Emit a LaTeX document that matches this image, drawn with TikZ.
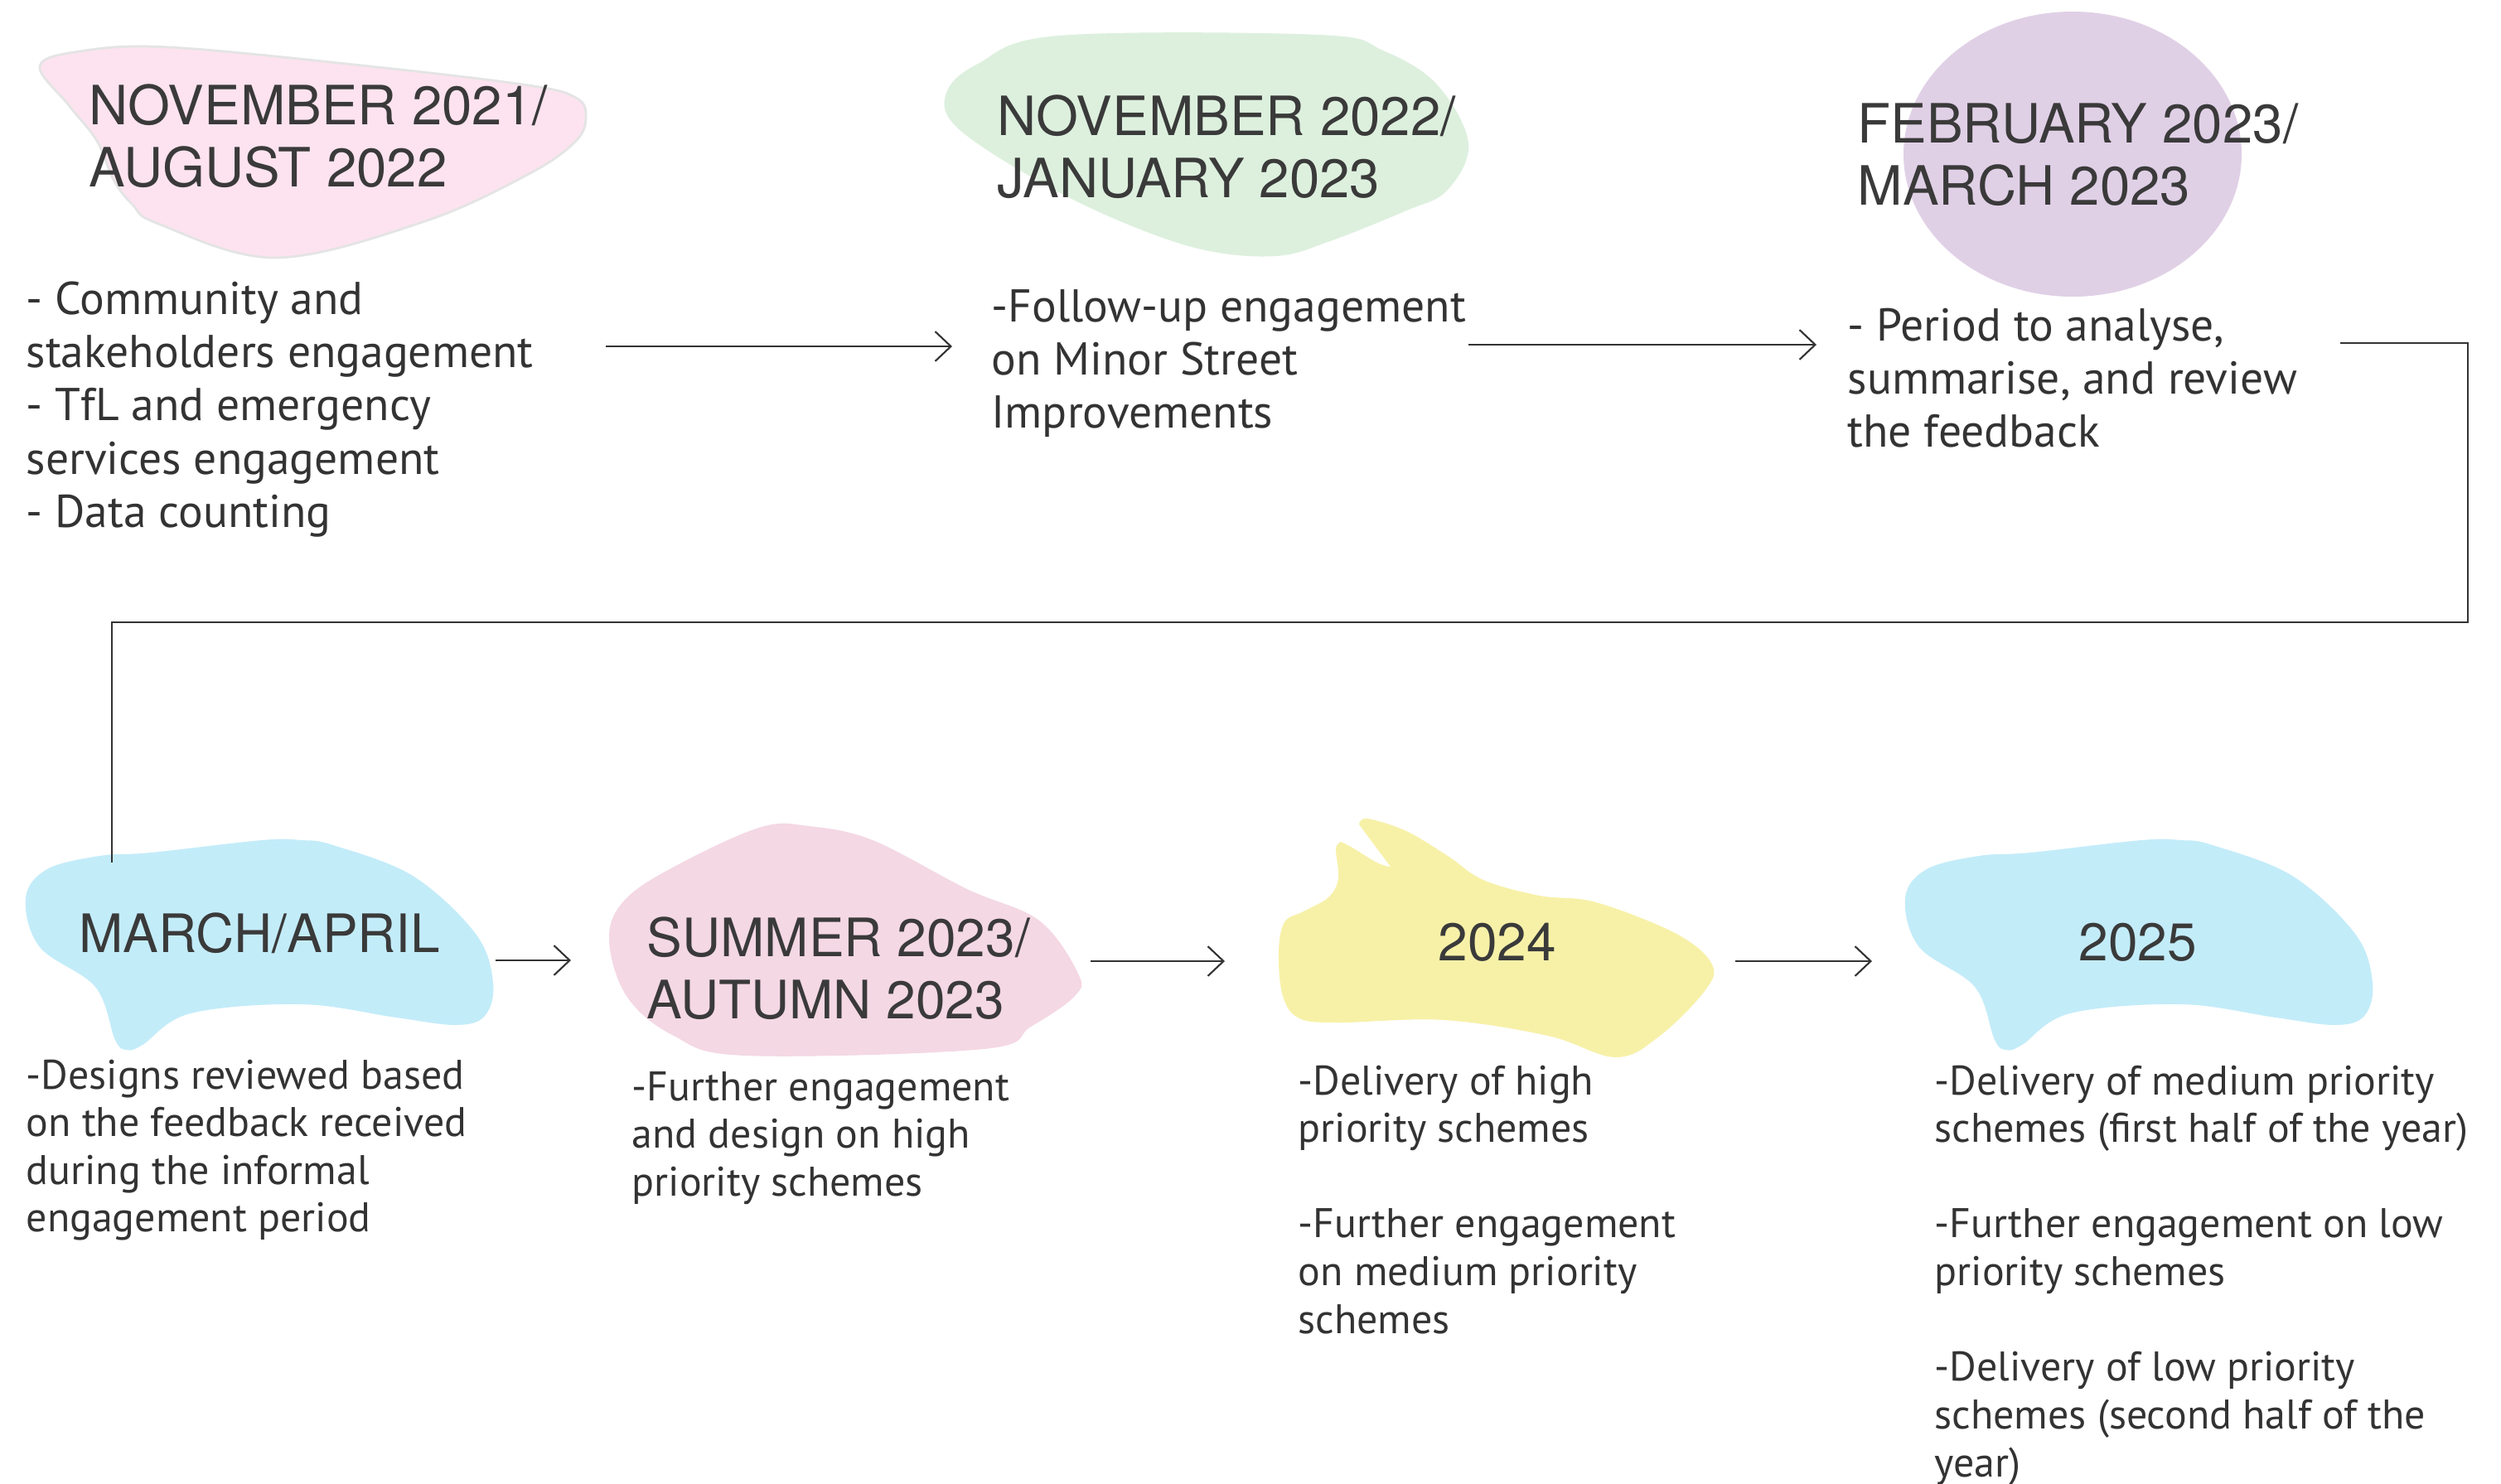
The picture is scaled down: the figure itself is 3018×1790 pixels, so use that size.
\documentclass[tikz,border=0pt]{standalone}
\usepackage{fontspec}
\setmainfont{PT Sans}
\newfontfamily\titlefont{TeX Gyre Heros}
\usetikzlibrary{arrows.meta}
\definecolor{txt}{HTML}{333333}
\definecolor{ttlc}{HTML}{3A3A3A}
\definecolor{linec}{HTML}{333333}
\definecolor{pinkA}{HTML}{FDE3EF}
\definecolor{pinkO}{HTML}{E4E4E4}
\definecolor{greenA}{HTML}{DDF0DE}
\definecolor{purpA}{HTML}{E0D0E6}
\definecolor{blueA}{HTML}{C3ECF9}
\definecolor{pinkB}{HTML}{F4D8E4}
\definecolor{yelA}{HTML}{F7F1A8}
\newcommand\lns[1]{\vtop{\halign{##\hfil\cr#1\crcr}}}
\begin{document}
\begin{tikzpicture}[x=0.1mm,y=-0.1mm,
  ttl/.style={anchor=base west,inner sep=0pt,text=ttlc,font=\titlefont\fontsize{18.6}{21.6}\selectfont},
  ttlB/.style={anchor=base west,inner sep=0pt,text=ttlc,font=\titlefont\fontsize{18.2}{21.6}\selectfont},
  bodyA/.style={anchor=base west,inner sep=0pt,text=txt,font=\fontsize{15.8}{18.35}\selectfont},
  bodyB/.style={anchor=base west,inner sep=0pt,text=txt,font=\fontsize{14.2}{16.4}\selectfont},
  arr/.style={draw=linec,line width=0.6pt,-{Straight Barb[length=5.4pt,width=10.2pt,line width=0.6pt]}},
  conn/.style={draw=linec,line width=0.6pt}]
\fill[white] (0,0) rectangle (3018,1790);
\useasboundingbox (0,0) rectangle (3018,1790);

% blobs
\filldraw[fill=pinkA,draw=pinkO,line width=0.8pt] plot[smooth cycle,tension=0.6] coordinates {
  (48,80) (96,62) (204,57) (446,80) (638,103) (695,118) (707,140) (695,170) (638,210) (510,268) (332,311)
  (191,270) (160,247) (137,217) (117,170) (83,127)};
\fill[greenA] plot[smooth cycle,tension=0.6] coordinates {
  (1277,43) (1592,42) (1669,61) (1734,102) (1772,173) (1746,230) (1695,255) (1605,291) (1540,309)
  (1450,301) (1347,265) (1245,214) (1154,153) (1142,112) (1180,77)};
\fill[purpA] (2501,186) ellipse [x radius=204, y radius=172];
\fill[blueA] plot[smooth cycle,tension=0.6] coordinates {
  (57,1049) (120,1033) (182,1029) (316,1014) (364,1014) (402,1020) (498,1057) (574,1127) (595,1186)
  (585,1226) (550,1237) (478,1228) (364,1212) (230,1223) (172,1261) (153,1267) (139,1255) (115,1191)
  (48,1143) (31,1084)};
\begin{scope}[shift={(2268,0)}]
\fill[blueA] plot[smooth cycle,tension=0.6] coordinates {
  (57,1049) (120,1033) (182,1029) (316,1014) (364,1014) (402,1020) (498,1057) (574,1127) (595,1186)
  (585,1226) (550,1237) (478,1228) (364,1212) (230,1223) (172,1261) (153,1267) (139,1255) (115,1191)
  (48,1143) (31,1084)};
\end{scope}
\fill[pinkB] plot[smooth cycle,tension=0.6] coordinates {
  (919,998) (976,997) (1053,1014) (1167,1073) (1254,1111) (1301,1175) (1297,1202) (1244,1239) (1187,1266)
  (900,1274) (813,1250) (756,1202) (735,1132) (756,1084) (823,1041)};
\fill[yelA] (1678,1046) -- plot[smooth,tension=0.6] coordinates {
  (1640,995) (1650,988) (1697,1003) (1747,1033) (1790,1062) (1858,1081) (1926,1089) (2023,1127) (2066,1164)
  (2057,1196) (2003,1250) (1950,1276) (1868,1250) (1742,1231) (1616,1234) (1568,1229) (1548,1202)
  (1543,1150) (1550,1113) (1573,1100) (1603,1083) (1615,1060) (1612,1025) (1618,1016)}
  .. controls (1640,1025) and (1660,1045) .. (1678,1046) -- cycle;

% titles
\node[ttl] (t1) at (107,150) {\lns{NOVEMBER 2021/\cr AUGUST 2022}};
\node[ttl] (t2) at (1203,163) {\lns{NOVEMBER 2022/\cr JANUARY 2023}};
\node[ttl] (t3) at (2241,172) {\lns{FEBRUARY 2023/\cr MARCH 2023}};
\node[ttlB] (t4) at (95,1149) {\lns{MARCH/APRIL}};
\node[ttlB] (t5) at (780,1154) {\lns{SUMMER 2023/\cr AUTUMN 2023}};
\node[ttlB] (t6) at (1735,1159) {\lns{2024}};
\node[ttlB] (t7) at (2508,1159) {\lns{2025}};

% bodies
\node[bodyA] (b1) at (31,379) {\lns{- Community and\cr stakeholders engagement\cr - TfL and emergency\cr services engagement\cr - Data counting}};
\node[bodyA] (b2) at (1196,388) {\lns{-Follow-up engagement\cr on Minor Street\cr Improvements}};
\node[bodyA] (b3) at (2229,411) {\lns{- Period to analyse,\cr summarise, and review\cr the feedback}};
\node[bodyB] (b4) at (31,1314) {\lns{-Designs reviewed based\cr on the feedback received\cr during the informal\cr engagement period}};
\node[bodyB] (b5) at (762,1328) {\lns{-Further engagement\cr and design on high\cr priority schemes}};
\node[bodyB] (b6) at (1566,1321) {\lns{-Delivery of high\cr priority schemes\cr\relax\cr -Further engagement\cr on medium priority\cr schemes}};
\node[bodyB] (b7) at (2334,1321) {\lns{-Delivery of medium priority\cr schemes (first half of the year)\cr\relax\cr -Further engagement on low\cr priority schemes\cr\relax\cr -Delivery of low priority\cr schemes (second half of the\cr year)}};

% connectors
\coordinate (a1s) at (731,418);  \coordinate (a1e) at (1149,418);
\coordinate (a2s) at (1772,416); \coordinate (a2e) at (2192,416);
\coordinate (a3s) at (598,1159); \coordinate (a3e) at (689,1159);
\coordinate (a4s) at (1316,1160); \coordinate (a4e) at (1478,1160);
\coordinate (a5s) at (2094,1160); \coordinate (a5e) at (2259,1160);
\draw[arr] (a1s) -- (a1e);
\draw[arr] (a2s) -- (a2e);
\draw[arr] (a3s) -- (a3e);
\draw[arr] (a4s) -- (a4e);
\draw[arr] (a5s) -- (a5e);
\coordinate (k1) at (2824,414);
\coordinate (k2) at (2978,751);
\coordinate (k3) at (135,1041);
\draw[conn] (k1) -| (k2) -| (k3);
\end{tikzpicture}
\end{document}
